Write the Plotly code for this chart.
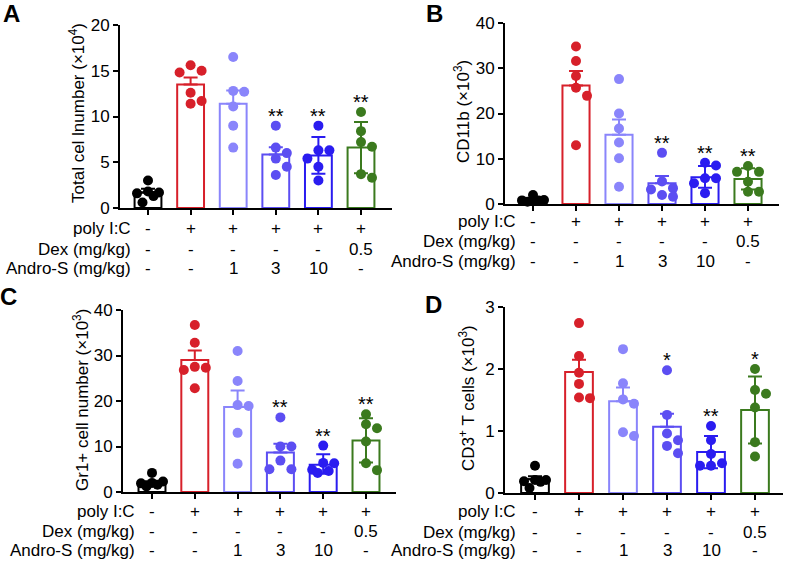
import plotly.graph_objects as go

# ---------------- data ----------------
group_colors = ["#000000", "#d7202a", "#8a85fb", "#5c4ef2", "#2a1cf0", "#3b7a1e"]
poly_ic = ["-", "+", "+", "+", "+", "+"]
dex = ["-", "-", "-", "-", "-", "0.5"]
andro = ["-", "-", "1", "3", "10", "-"]
row_labels = ["poly I:C", "Dex (mg/kg)", "Andro-S (mg/kg)"]

a_means = [1.7, 13.5, 11.4, 5.85, 5.75, 6.6]
a_err_up = [0.4, 0.75, 1.45, 0.8, 2.0, 2.8]
a_err_low = [0, 0, 0, 0, 2.0, 2.8]
a_points = [[3.0, 1.8, 1.7, 1.6, 1.3, 0.6],
            [15.6, 15.0, 14.8, 12.6, 11.7, 11.4],
            [16.5, 12.8, 12.7, 11.1, 9.0, 6.6],
            [9.0, 6.6, 6.0, 5.4, 4.5, 3.6],
            [9.0, 6.3, 6.3, 5.4, 4.5, 3.0],
            [10.5, 8.4, 7.2, 6.7, 3.7, 3.3]]
a_stars = ["", "", "", "**", "**", "**"]

b_means = [0.9, 26.2, 15.3, 4.6, 5.9, 5.5]
b_err_up = [0.3, 3.2, 3.4, 1.6, 2.5, 2.4]
b_err_low = [0, 0, 0, 0, 2.3, 2.3]
b_points = [[2.0, 0.9, 0.8, 0.8, 0.6, 0.5],
            [34.8, 31.6, 28.3, 25.7, 23.9, 13.0],
            [27.6, 20.0, 16.7, 13.6, 10.1, 3.8],
            [11.3, 5.0, 3.5, 3.2, 2.0, 1.6],
            [9.1, 8.5, 5.7, 5.7, 4.6, 2.4],
            [8.4, 7.1, 7.1, 4.9, 2.7, 2.7]]
b_stars = ["", "", "", "**", "**", "**"]

c_means = [1.9, 29.0, 18.7, 8.7, 6.0, 11.3]
c_err_up = [0.45, 2.1, 3.6, 1.9, 2.3, 4.9]
c_err_low = [0, 0, 0, 0, 2.0, 4.8]
c_points = [[4.2, 2.3, 2.0, 1.9, 1.6, 1.2],
            [36.7, 32.8, 27.5, 27.3, 26.8, 22.8],
            [31.0, 24.4, 19.1, 18.9, 13.0, 6.2],
            [16.4, 10.0, 10.0, 6.9, 5.0, 5.0],
            [10.2, 6.4, 6.3, 4.9, 4.6, 4.2],
            [17.1, 14.9, 14.0, 11.1, 6.3, 4.8]]
c_stars = ["", "", "", "**", "**", "**"]

d_means = [0.22, 1.95, 1.48, 1.07, 0.66, 1.34]
d_err_up = [0.05, 0.2, 0.22, 0.21, 0.26, 0.54]
d_err_low = [0, 0, 0, 0, 0.26, 0.54]
d_points = [[0.44, 0.21, 0.21, 0.19, 0.18, 0.08],
            [2.74, 2.21, 1.94, 1.76, 1.54, 1.53],
            [2.32, 1.77, 1.51, 1.44, 0.98, 0.92],
            [1.98, 1.26, 0.96, 0.85, 0.76, 0.64],
            [1.08, 0.85, 0.63, 0.48, 0.44, 0.44],
            [2.0, 1.66, 1.60, 1.38, 0.82, 0.59]]
d_stars = ["", "", "", "*", "**", "*"]

a_title = "Total cel lnumber (×10<sup>4</sup>)"
b_title = "CD11b (×10<sup>3</sup>)"
c_title = "Gr1+ cell number (×10<sup>3</sup>)"
d_title = "CD3<sup>+</sup> T cells (×10<sup>3</sup>)"

# ---------------- layout geometry (pixels) ----------------
W, H = 787, 561
FONT = "Liberation Sans, Arial, Helvetica, sans-serif"
TXT = 17

panels = [
    dict(letter="A", means=a_means, up=a_err_up, low=a_err_low, pts=a_points, stars=a_stars,
         title=a_title, ax=120, xend=392, c0=148, sp=42.6, y0=208, ytop=25, ymax=20, dtick=5,
         rows=[228, 249, 268], lab_r=133, tx=77, ty=113, lx=11, ly=13),
    dict(letter="B", means=b_means, up=b_err_up, low=b_err_low, pts=b_points, stars=b_stars,
         title=b_title, ax=505, xend=779, c0=533, sp=43.0, y0=204, ytop=23, ymax=40, dtick=10,
         rows=[221, 241, 261], lab_r=518, tx=462, ty=112, lx=434, ly=13),
    dict(letter="C", means=c_means, up=c_err_up, low=c_err_low, pts=c_points, stars=c_stars,
         title=c_title, ax=123, xend=396, c0=152, sp=42.8, y0=492, ytop=310, ymax=40, dtick=10,
         rows=[512, 531, 550], lab_r=137, tx=81, ty=400, lx=8, ly=296),
    dict(letter="D", means=d_means, up=d_err_up, low=d_err_low, pts=d_points, stars=d_stars,
         title=d_title, ax=505, xend=783, c0=535, sp=44.0, y0=493, ytop=307, ymax=3, dtick=1,
         rows=[512, 532, 550], lab_r=518, tx=467, ty=398, lx=433, ly=304),
]


def swarm(vals, ppu_y, ppu_x, d=9.5, step=11.0):
    placed = []
    offs = [0.0] * len(vals)
    order = sorted(range(len(vals)), key=lambda i: -vals[i])
    for i in order:
        y = vals[i] * ppu_y
        best, best_d = 0.0, -1.0
        for x in [0.0, step, -step, step / 2, -step / 2]:
            md = min([((x - px) ** 2 + (y - py) ** 2) ** 0.5 for px, py in placed] or [1e9])
            if md >= d:
                best = x
                break
            if md > best_d:
                best, best_d = x, md
        placed.append((best, y))
        offs[i] = best / ppu_x
    return offs


fig = go.Figure()
annotations = []
layout_axes = {}

for pi, p in enumerate(panels):
    n = "" if pi == 0 else str(pi + 1)
    xa, ya = "x" + n, "y" + n
    ppu_y = (p["y0"] - p["ytop"]) / p["ymax"]
    groups = list(range(len(p["means"])))
    for g in groups:
        col = group_colors[g]
        fig.add_trace(go.Bar(
            x=[g], y=[p["means"][g]], width=0.63, xaxis=xa, yaxis=ya,
            marker=dict(color="white", line=dict(color=col, width=2)),
            error_y=dict(type="data", symmetric=False, array=[p["up"][g]],
                         arrayminus=[p["low"][g]], color=col, thickness=2, width=7),
            showlegend=False, hoverinfo="skip"))
        offs = swarm(p["pts"][g], ppu_y, p["sp"])
        fig.add_trace(go.Scatter(
            x=[g + o for o in offs], y=p["pts"][g], mode="markers", xaxis=xa, yaxis=ya,
            marker=dict(color=col, size=10, line=dict(width=0)),
            cliponaxis=False, showlegend=False, hoverinfo="skip"))
        if p["stars"][g]:
            top = max(max(p["pts"][g]), p["means"][g] + p["up"][g])
            annotations.append(dict(x=g, y=top, xref=xa, yref=ya, text=p["stars"][g],
                                    showarrow=False, yanchor="middle", yshift=10,
                                    font=dict(family=FONT, size=20, color="black")))
    # table rows
    for ri, (lab, vals) in enumerate(zip(row_labels, [poly_ic, dex, andro])):
        yp = 1 - p["rows"][ri] / H
        annotations.append(dict(x=p["lab_r"] / W, y=yp, xref="paper", yref="paper",
                                text=lab, showarrow=False, xanchor="right", yanchor="middle",
                                font=dict(family=FONT, size=TXT, color="black")))
        for g in groups:
            annotations.append(dict(x=g, y=yp, xref=xa, yref="paper", text=vals[g],
                                    showarrow=False, xanchor="center", yanchor="middle",
                                    font=dict(family=FONT, size=TXT, color="black")))
    # y title
    annotations.append(dict(x=p["tx"] / W, y=1 - p["ty"] / H, xref="paper", yref="paper",
                            text=p["title"], textangle=-90, showarrow=False,
                            xanchor="center", yanchor="middle",
                            font=dict(family=FONT, size=TXT, color="black")))
    # panel letter
    annotations.append(dict(x=p["lx"] / W, y=1 - p["ly"] / H, xref="paper", yref="paper",
                            text="<b>" + p["letter"] + "</b>", showarrow=False,
                            xanchor="center", yanchor="middle",
                            font=dict(family=FONT, size=24, color="black")))

    xkey = "xaxis" + n
    ykey = "yaxis" + n
    layout_axes[xkey] = dict(
        domain=[p["ax"] / W, p["xend"] / W],
        range=[(p["ax"] - p["c0"]) / p["sp"], (p["xend"] - p["c0"]) / p["sp"]],
        anchor=ya, showline=True, linewidth=2, linecolor="black", automargin=False,
        ticks="outside", ticklen=5, tickwidth=2, tickcolor="black",
        tickvals=groups, showticklabels=False, showgrid=False, zeroline=False, fixedrange=True)
    layout_axes[ykey] = dict(
        domain=[1 - p["y0"] / H, 1 - p["ytop"] / H],
        range=[0, p["ymax"]], anchor=xa, showline=True, linewidth=2, linecolor="black",
        automargin=False,
        ticks="outside", ticklen=5, tickwidth=2, tickcolor="black",
        tickmode="linear", tick0=0, dtick=p["dtick"], showgrid=False, zeroline=False,
        tickfont=dict(family=FONT, size=17, color="black"), fixedrange=True)

fig.update_layout(
    template="none",
    width=W, height=H, margin=dict(l=0, r=0, t=0, b=0, pad=0, autoexpand=False),
    paper_bgcolor="white", plot_bgcolor="white", barmode="overlay", showlegend=False,
    font=dict(family=FONT, color="black"),
    annotations=annotations, **layout_axes)

fig.write_html("out.html", config={"displayModeBar": False},
               post_script="document.body.style.margin='0';document.body.style.overflow='hidden';")
